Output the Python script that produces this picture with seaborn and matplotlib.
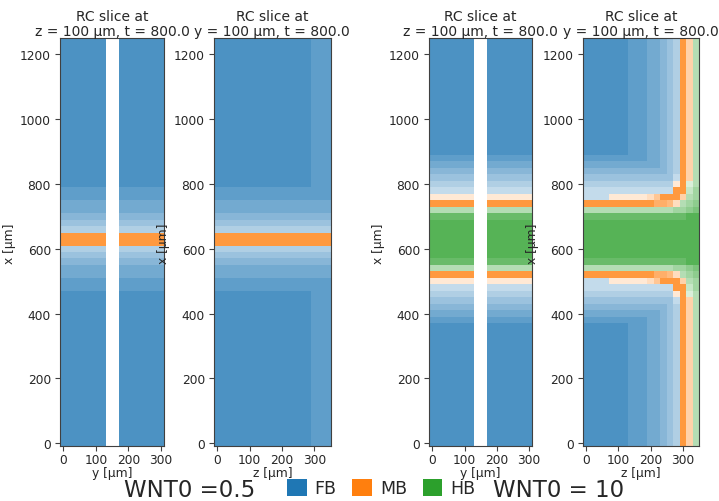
import numpy as np
import matplotlib
matplotlib.use("Agg")
import matplotlib.pyplot as plt
from matplotlib.colors import LinearSegmentedColormap
from matplotlib.patches import Patch
import seaborn as sns

sns.set_style("ticks")
plt.rcParams["font.family"] = ["DejaVu Sans"]

# ---------------------------------------------------------------------------
# Cell-type legend
CELL_TYPES = ["FB", "MB", "HB"]
TYPE_COLORS = sns.color_palette("tab10", 3)
MAX_ALPHA = 0.8

# Cell codes: FB '1'..'9', MB 'a'..'i', HB 'A'..'I' (level k/9 of the
# type's probability), '.' = outside the tissue.
TYPE_CODES = ["123456789", "abcdefghi", "ABCDEFGHI"]

# Lattice of the slices (µm); spacing 20 µm
X_RANGE = (0, 1240)
Y_RANGE = (0, 300)
Z_RANGE = (0, 340)
STEP = 20

X_TICKS = [0, 200, 400, 600, 800, 1000, 1200]
H_TICKS = [0, 100, 200, 300]

# Each slice: runs of (number of rows, row string), from x = 0 upwards.
# ---- WNT0 = 0.5, slice at z = 100 µm (columns: y)
WNT05_Y_ROWS = [
    (24, "9999999..9999999"),
    (2, "8888888..8888888"),
    (2, "7777777..7777777"),
    (1, "6666666..6666666"),
    (1, "5555555..5555555"),
    (1, "4444444..4444444"),
    (2, "iiiiiii..iiiiiii"),
    (1, "4444444..4444444"),
    (1, "5555555..5555555"),
    (1, "6666666..6666666"),
    (2, "7777777..7777777"),
    (2, "8888888..8888888"),
    (23, "9999999..9999999"),
]

# ---- WNT0 = 0.5, slice at y = 100 µm (columns: z)
WNT05_Z_ROWS = [
    (24, "999999999999999888"),
    (2, "888888888888888888"),
    (2, "777777777777777777"),
    (1, "666666666666666666"),
    (1, "555555555555555555"),
    (1, "444444444444444444"),
    (2, "iiiiiiiiiiiiiiiiii"),
    (1, "444444444444444444"),
    (1, "555555555555555555"),
    (1, "666666666666666666"),
    (2, "777777777777777777"),
    (2, "888888888888888888"),
    (23, "999999999999999888"),
]

# ---- WNT0 = 10, slice at z = 100 µm (columns: y)
WNT10_Y_ROWS = [
    (19, "9999999..9999999"),
    (1, "8888888..8888888"),
    (1, "7777777..7777777"),
    (1, "6666666..6666666"),
    (1, "5555555..5555555"),
    (1, "4444444..4444444"),
    (1, "3333333..3333333"),
    (1, "bbbbbbb..bbbbbbb"),
    (1, "iiiiiii..iiiiiii"),
    (1, "DDDDDDD..DDDDDDD"),
    (1, "HHHHHHH..HHHHHHH"),
    (6, "IIIIIII..IIIIIII"),
    (1, "HHHHHHH..HHHHHHH"),
    (1, "DDDDDDD..DDDDDDD"),
    (1, "iiiiiii..iiiiiii"),
    (1, "bbbbbbb..bbbbbbb"),
    (1, "3333333..3333333"),
    (1, "4444444..4444444"),
    (1, "5555555..5555555"),
    (1, "6666666..6666666"),
    (1, "7777777..7777777"),
    (1, "8888888..8888888"),
    (18, "9999999..9999999"),
]

# ---- WNT0 = 10, slice at y = 100 µm (columns: z)
WNT10_Z_ROWS = [
    (19, "999999988877654idD"),
    (1, "888888888877654idD"),
    (1, "777777777777654idD"),
    (1, "666666666666654idD"),
    (1, "555555555555553idD"),
    (1, "44444444444444biBD"),
    (1, "33333333333333iiCE"),
    (1, "3333bbbbbbceiiidDE"),
    (1, "iiiiiiiiiiiggfcDEF"),
    (1, "DDDDDDDDDDDDDDEEFG"),
    (1, "HHHHHHHHHHHHHHHHII"),
    (6, "IIIIIIIIIIIIIIIIII"),
    (1, "HHHHHHHHHHHHHHHHII"),
    (1, "DDDDDDDDDDDDDDEEFG"),
    (1, "iiiiiiiiiiiggfcDEF"),
    (1, "3333bbbbbbceiiidDE"),
    (1, "33333333333333iiCE"),
    (1, "44444444444444biBD"),
    (1, "555555555555553idD"),
    (1, "666666666666654idD"),
    (1, "777777777777654idD"),
    (1, "888888888877654idD"),
    (18, "999999988877654idD"),
]

PANELS = [
    (WNT05_Y_ROWS, "y", "z = 100 µm, t = 800.0", Y_RANGE),
    (WNT05_Z_ROWS, "z", "y = 100 µm, t = 800.0", Z_RANGE),
    (WNT10_Y_ROWS, "y", "z = 100 µm, t = 800.0", Y_RANGE),
    (WNT10_Z_ROWS, "z", "y = 100 µm, t = 800.0", Z_RANGE),
]

# Axes boxes in pixels: (left, right), shared top/bottom
FIG_W, FIG_H = 719, 502
AX_X = [(60, 164.3), (214, 330.7), (429, 532.3), (582.7, 699.3)]
AX_TOP, AX_BOTTOM = 39.3, 447.3


def expand(runs):
    rows = []
    for n, s in runs:
        rows.extend([s] * n)
    return rows


def layers(rows):
    grid = np.array([list(r) for r in rows])
    out = []
    for t, chars in enumerate(TYPE_CODES):
        arr = np.full(grid.shape, np.nan)
        for k, ch in enumerate(chars, start=1):
            arr[grid == ch] = k / len(chars)
        out.append(arr)
    return out


def type_cmap(color):
    full = 1 - MAX_ALPHA * (1 - np.asarray(color))
    return LinearSegmentedColormap.from_list("", [(1, 1, 1), tuple(full)])


CMAPS = [type_cmap(c) for c in TYPE_COLORS]

fig = plt.figure(figsize=(FIG_W / 100, FIG_H / 100), dpi=100)

for (runs, hname, where, hrange), (xl, xr) in zip(PANELS, AX_X):
    ax = fig.add_axes([xl / FIG_W, 1 - AX_BOTTOM / FIG_H,
                       (xr - xl) / FIG_W, (AX_BOTTOM - AX_TOP) / FIG_H])
    rows = expand(runs)
    nrows, ncols = len(rows), len(rows[0])
    for arr, cmap in zip(layers(rows), CMAPS):
        if np.all(np.isnan(arr)):
            continue
        sns.heatmap(arr, mask=np.isnan(arr), cmap=cmap, vmin=0, vmax=1,
                    cbar=False, ax=ax, xticklabels=False, yticklabels=False)
    ax.set_xlim(0, ncols)
    ax.set_ylim(0, nrows)
    for sp in ax.spines.values():
        sp.set_visible(True)
        sp.set_color(".25")
        sp.set_linewidth(0.8)
    ax.set_yticks([(v - X_RANGE[0] + STEP / 2) / STEP for v in X_TICKS])
    ax.set_yticklabels([str(v) for v in X_TICKS], rotation=0)
    ax.set_xticks([(v - hrange[0] + STEP / 2) / STEP for v in H_TICKS])
    ax.set_xticklabels([str(v) for v in H_TICKS], rotation=0)
    ax.tick_params(labelsize=8.8, length=3.5, width=0.8, color=".25",
                   left=True, bottom=True)
    ax.tick_params(axis="y", pad=3)
    ax.tick_params(axis="x", pad=1)
    ax.set_ylabel("x [µm]", fontsize=8.8, labelpad=3)
    ax.set_xlabel(f"{hname} [µm]", fontsize=8.8, labelpad=0)
    ax.set_title(f"RC slice at\n{where}", fontsize=10, pad=2, linespacing=1.1)

# Figure legend for the cell types, flanked by the two WNT0 labels
handles = [Patch(facecolor=c, edgecolor="none") for c in TYPE_COLORS]
fig.legend(handles, CELL_TYPES, loc="center", ncol=3, frameon=False,
           fontsize=12.5, handlelength=1.15, handleheight=1.15,
           handletextpad=0.45, columnspacing=0.9, borderpad=0,
           bbox_to_anchor=(381 / FIG_W, 1 - 489 / FIG_H))
fig.text(190 / FIG_W, 1 - 497 / FIG_H, "WNT0 =0.5", ha="center",
         va="baseline", fontsize=16.5)
fig.text(558.5 / FIG_W, 1 - 497 / FIG_H, "WNT0 = 10", ha="center",
         va="baseline", fontsize=16.5)

fig.savefig("out.png", dpi=100, facecolor="white")
